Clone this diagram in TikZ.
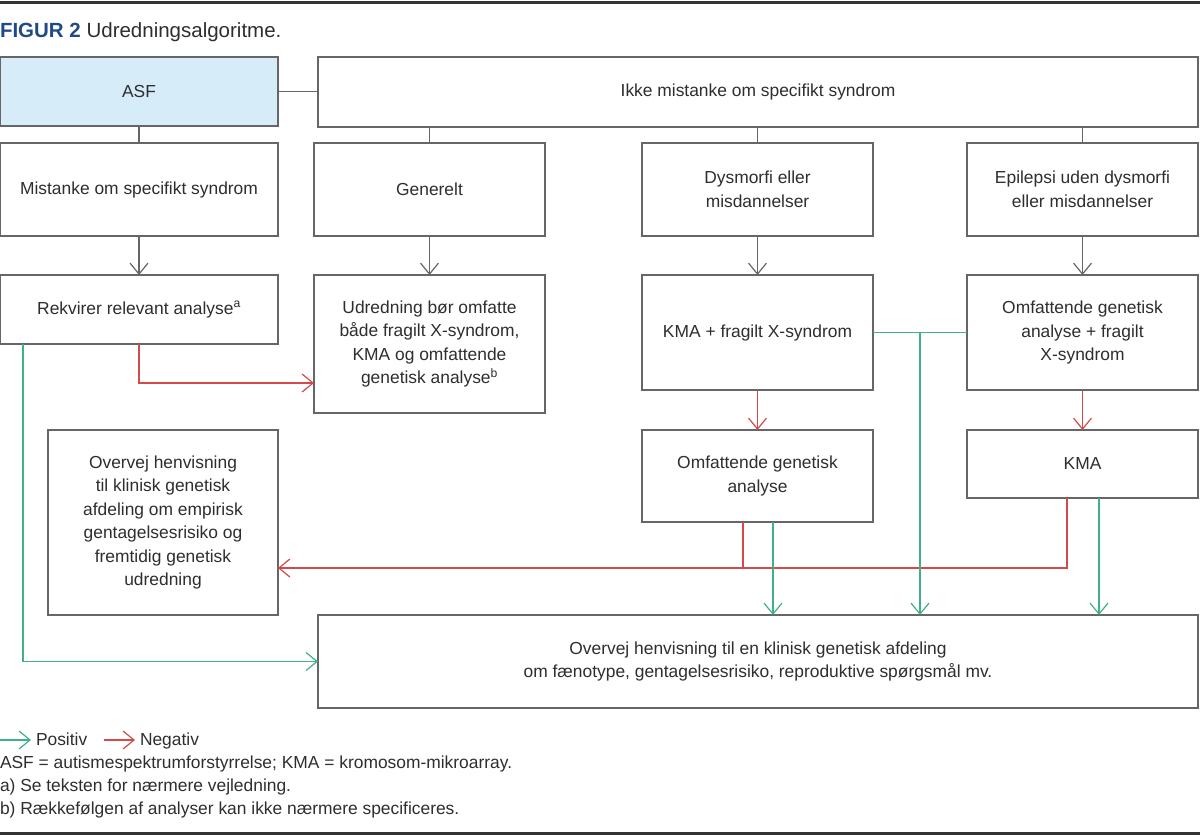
\documentclass[tikz,border=0pt]{standalone}
\usepackage{fontspec}
\setmainfont{Liberation Sans}
\usetikzlibrary{arrows.meta,calc}
\definecolor{txt}{HTML}{2E2E2E}
\definecolor{edge}{HTML}{666666}
\definecolor{asffill}{HTML}{D7ECF9}
\definecolor{posg}{HTML}{3FB08A}
\definecolor{negr}{HTML}{D44A4A}
\definecolor{titleblue}{HTML}{1F4A85}
\definecolor{rule}{HTML}{333333}
\begin{document}
\begin{tikzpicture}[x=1pt,y=-1pt,
  font=\fontsize{17.4}{23.5}\selectfont, text=txt,
  box/.style={draw=edge, line width=1.3pt, inner sep=0pt, outer sep=0pt, align=center, fill=white},
  wide/.style={minimum width=231pt},
  conn/.style={draw=edge, line width=1.2pt},
  tipped/.style={-{Straight Barb[length=11pt,width=18pt,line width=1.2pt]}},
  posline/.style={draw=posg, line width=1.2pt},
  negline/.style={draw=negr, line width=1.2pt},
  note/.style={anchor=base west, inner sep=0pt, outer sep=0pt}]
\useasboundingbox (0,0) rectangle (1200,836);
% rules
\coordinate (rtl) at (0,2); \coordinate (rtr) at (1200,2);
\coordinate (rbl) at (0,833); \coordinate (rbr) at (1200,833);
\draw[rule, line width=3pt] (rtl) -- (rtr);
\draw[rule, line width=3pt] (rbl) -- (rbr);
% title
\node[note, font=\fontsize{20.5}{24}\selectfont] (title) at (0,37)
  {\textcolor{titleblue}{\bfseries FIGUR 2} Udredningsalgoritme.};
% row 1
\node[box, fill=asffill, minimum width=278pt, minimum height=69pt] (asf) at (139,91.5) {ASF};
\node[box, minimum width=880pt, minimum height=70pt] (ikke) at (758,92) {Ikke mistanke om specifikt syndrom};
% row 2
\node[box, minimum width=278pt, minimum height=93pt] (mist) at (139,189.5) {Mistanke om specifikt syndrom};
\node[box, wide, minimum height=93pt] (gen) at (429.5,189.5) {Generelt};
\node[box, wide, minimum height=93pt] (dys) at (757.5,189.5) {Dysmorfi eller\\misdannelser};
\node[box, wide, minimum height=93pt] (epi) at (1082.5,189.5) {Epilepsi uden dysmorfi\\eller misdannelser};
% row 3
\node[box, minimum width=278pt, minimum height=69pt] (rek) at (139,309.5) {Rekvirer relevant analyse\textsuperscript{a}};
\node[box, wide, minimum height=138pt] (udr) at (429.5,344) {Udredning bør omfatte\\både fragilt X-syndrom,\\KMA og omfattende\\genetisk analyse\textsuperscript{b}};
\node[box, wide, minimum height=115pt] (kmaf) at (757.5,332.5) {KMA + fragilt X-syndrom};
\node[box, wide, minimum height=115pt] (omff) at (1082.5,332.5) {Omfattende genetisk\\analyse + fragilt\\X-syndrom};
% row 4
\node[box, minimum width=230pt, minimum height=185pt] (ovl) at (163,522.5) {Overvej henvisning\\til klinisk genetisk\\afdeling om empirisk\\gentagelsesrisiko og\\fremtidig genetisk\\udredning};
\node[box, wide, minimum height=92pt] (omfg) at (757.5,476) {Omfattende genetisk\\analyse};
\node[box, wide, minimum height=68pt] (kma) at (1082.5,464) {KMA};
% bottom
\node[box, minimum width=880pt, minimum height=93pt] (ovb) at (758,661.5) {Overvej henvisning til en klinisk genetisk afdeling\\om fænotype, gentagelsesrisiko, reproduktive spørgsmål mv.};
% plain connectors
\draw[conn] (asf.east) -- (ikke.west |- asf.east);
\draw[conn] (asf.south) -- (mist.north);
\draw[conn] (gen.north |- ikke.south) -- (gen.north);
\draw[conn] (dys.north |- ikke.south) -- (dys.north);
\draw[conn] (epi.north |- ikke.south) -- (epi.north);
\draw[conn, tipped] (mist.south) -- (rek.north);
\draw[conn, tipped] (gen.south) -- (udr.north);
\draw[conn, tipped] (dys.south) -- (kmaf.north);
\draw[conn, tipped] (epi.south) -- (omff.north);
% negative
\draw[negline, tipped] (rek.south) |- ($(udr.west)+(0,39)$);
\draw[negline, tipped] (kmaf.south) -- (omfg.north);
\draw[negline, tipped] (omff.south) -- (kma.north);
\coordinate (ng1) at ($(omfg.south)+(-14.5,0)$);
\coordinate (nk1) at ($(kma.south)+(-15.5,0)$);
\coordinate (nrow) at ($(ovl.east)+(0,45.5)$);
\draw[negline] (ng1) -- (ng1 |- nrow);
\draw[negline, tipped] (nk1) |- (nrow);
% positive
\coordinate (pr1) at ($(rek.south west)+(23,0)$);
\draw[posline, tipped] (pr1) |- (ovb.west);
\coordinate (pj) at ($(kmaf.east)!0.5!(omff.west)$);
\draw[posline] (kmaf.east) -- (omff.west);
\draw[posline, tipped] (pj) -- (pj |- ovb.north);
\coordinate (pg1) at ($(omfg.south)+(15.5,0)$);
\draw[posline, tipped] (pg1) -- (pg1 |- ovb.north);
\coordinate (pk1) at ($(kma.south)+(16.5,0)$);
\draw[posline, tipped] (pk1) -- (pk1 |- ovb.north);
% legend
\node[note] (lpos) at (36,745) {Positiv};
\node[note] (lneg) at (140,745) {Negativ};
\coordinate (lp0) at (0,740); \coordinate (lp1) at (31,740);
\coordinate (ln0) at (104,740); \coordinate (ln1) at (135,740);
\draw[posline, tipped] (lp0) -- (lp1);
\draw[negline, tipped] (ln0) -- (ln1);
% notes
\node[note] (n1) at (0,768) {ASF = autismespektrumforstyrrelse; KMA = kromosom-mikroarray.};
\node[note] (n2) at (0,791) {a) Se teksten for nærmere vejledning.};
\node[note] (n3) at (0,814) {b) Rækkefølgen af analyser kan ikke nærmere specificeres.};
\end{tikzpicture}
\end{document}
